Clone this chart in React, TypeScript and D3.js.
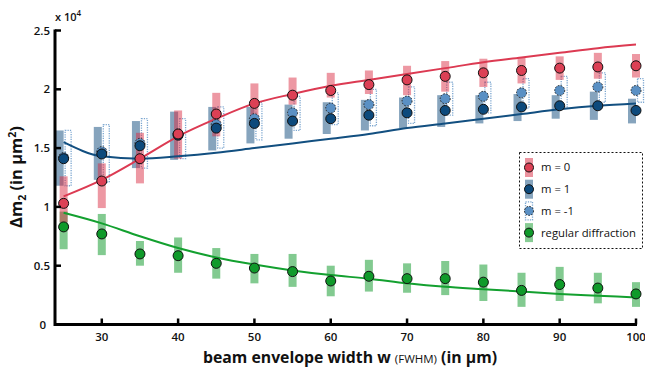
import * as d3 from "d3";

const widths = [25, 30, 35, 40, 45, 50, 55, 60, 65, 70, 75, 80, 85, 90, 95, 100];

// m = 0
const m0 = [1.03, 1.22, 1.41, 1.62, 1.79, 1.88, 1.95, 1.99, 2.04, 2.08, 2.11, 2.14, 2.16, 2.18, 2.19, 2.2];
const m0Lo = [0.87, 0.99, 1.2, 1.41, 1.6, 1.75, 1.87, 1.93, 1.96, 1.95, 1.98, 2.02, 2.05, 2.08, 2.09, 2.1];
const m0Hi = [1.26, 1.37, 1.63, 1.82, 1.97, 2.05, 2.1, 2.14, 2.16, 2.2, 2.24, 2.26, 2.27, 2.28, 2.31, 2.3];
const m0Fit = [1.09, 1.23, 1.41, 1.6, 1.75, 1.88, 1.96, 2.03, 2.08, 2.13, 2.18, 2.23, 2.27, 2.31, 2.35, 2.38];

// m = 1
const m1 = [1.41, 1.45, 1.52, 1.61, 1.67, 1.71, 1.73, 1.75, 1.78, 1.8, 1.82, 1.83, 1.85, 1.86, 1.86, 1.82];
const m1Lo = [1.18, 1.23, 1.33, 1.4, 1.48, 1.54, 1.58, 1.62, 1.65, 1.67, 1.68, 1.71, 1.73, 1.75, 1.74, 1.71];
const m1Hi = [1.65, 1.68, 1.73, 1.81, 1.85, 1.85, 1.87, 1.89, 1.91, 1.93, 1.95, 1.95, 1.96, 1.95, 1.98, 1.92];
const m1Fit = [1.55, 1.43, 1.41, 1.43, 1.46, 1.5, 1.54, 1.58, 1.62, 1.67, 1.71, 1.75, 1.79, 1.83, 1.86, 1.88];

// m = -1
const mm1 = [1.42, 1.47, 1.54, 1.62, 1.7, 1.75, 1.8, 1.84, 1.87, 1.9, 1.92, 1.94, 1.97, 1.99, 2.02, 1.99];
const mm1Lo = [1.18, 1.21, 1.33, 1.41, 1.5, 1.57, 1.65, 1.7, 1.69, 1.71, 1.78, 1.8, 1.84, 1.85, 1.89, 1.89];
const mm1Hi = [1.65, 1.7, 1.75, 1.75, 1.85, 1.89, 1.94, 1.97, 2.0, 2.02, 2.06, 2.06, 2.09, 2.11, 2.14, 2.09];

// regular diffraction
const reg = [0.83, 0.77, 0.6, 0.585, 0.52, 0.48, 0.45, 0.37, 0.41, 0.39, 0.39, 0.36, 0.29, 0.34, 0.31, 0.26];
const regLo = [0.64, 0.59, 0.5, 0.44, 0.39, 0.35, 0.32, 0.24, 0.28, 0.27, 0.25, 0.2, 0.15, 0.2, 0.18, 0.15];
const regHi = [0.96, 0.94, 0.71, 0.74, 0.65, 0.6, 0.6, 0.5, 0.55, 0.52, 0.54, 0.51, 0.44, 0.49, 0.44, 0.36];
const regFit = [0.95, 0.86, 0.75, 0.65, 0.57, 0.51, 0.46, 0.42, 0.39, 0.35, 0.32, 0.3, 0.28, 0.26, 0.245, 0.23];

const xTicks = [30, 40, 50, 60, 70, 80, 90, 100];
const yTicks = [0, 0.5, 1, 1.5, 2, 2.5];
const legendLabels = ["m = 0", "m = 1", "m = -1", "regular diffraction"];

const RED = "#d9283f";
const DBLUE = "#0d4a7c";
const LBLUE = "#5a90c4";
const GREEN = "#0f9a2a";
const FONT = "'Open Sans', 'Noto Sans', sans-serif";

const x = d3.scaleLinear().domain([24, 100]).range([56, 636]);
const y = d3.scaleLinear().domain([0, 2.5]).range([324.5, 30.5]);

const line = d3
  .line<number>()
  .x((_, i) => x(widths[i]))
  .y((d) => y(d))
  .curve(d3.curveMonotoneX);

const fmt = (v: number) => (v === 0 ? "0" : d3.format("~g")(v));

export default function App() {
  const barW = 8;
  return (
    <svg width={645} height={370} style={{ display: "block", position: "absolute", left: 0, top: 0 }} fontFamily={FONT}>
      <rect width={645} height={370} fill="#fff" />

      {/* error bars */}
      <g>
        {widths.map((w, i) => (
          <rect key={"g" + i} x={x(w) - 4} width={barW} y={y(regHi[i])} height={y(regLo[i]) - y(regHi[i])} fill={GREEN} fillOpacity={0.52} />
        ))}
        {widths.map((w, i) => (
          <rect key={"b" + i} x={x(w) - 8} width={barW} y={y(m1Hi[i])} height={y(m1Lo[i]) - y(m1Hi[i])} fill={DBLUE} fillOpacity={0.5} />
        ))}
        {widths.map((w, i) => (
          <rect key={"l" + i} x={x(w) + 1.5} width={6} y={y(mm1Hi[i])} height={y(mm1Lo[i]) - y(mm1Hi[i])} fill="none" stroke={LBLUE} strokeOpacity={0.8} strokeWidth={1.3} strokeDasharray="1.2,1.2" />
        ))}
        {widths.map((w, i) => (
          <rect key={"r" + i} x={x(w) - 4} width={barW} y={y(m0Hi[i])} height={y(m0Lo[i]) - y(m0Hi[i])} fill={RED} fillOpacity={0.48} />
        ))}
      </g>

      {/* fits */}
      <path d={line(regFit) ?? ""} fill="none" stroke="#13a02f" strokeWidth={2} />
      <path d={line(m1Fit) ?? ""} fill="none" stroke="#124f80" strokeWidth={2} />
      <path d={line(m0Fit) ?? ""} fill="none" stroke="#dc3a52" strokeWidth={2} />

      {/* points */}
      {widths.map((w, i) => (
        <circle key={"pg" + i} cx={x(w)} cy={y(reg[i])} r={5} fill={GREEN} stroke="#111" strokeWidth={1} />
      ))}
      {widths.map((w, i) => (
        <circle key={"pl" + i} cx={x(w)} cy={y(mm1[i])} r={5} fill={LBLUE} stroke="#222" strokeWidth={1} strokeDasharray="1.5,1.5" />
      ))}
      {widths.map((w, i) => (
        <circle key={"pb" + i} cx={x(w)} cy={y(m1[i])} r={5} fill={DBLUE} stroke="#111" strokeWidth={1} />
      ))}
      {widths.map((w, i) => (
        <circle key={"pr" + i} cx={x(w)} cy={y(m0[i])} r={5} fill="#dc4055" stroke="#111" strokeWidth={1} />
      ))}

      {/* axes */}
      <line x1={55} x2={55} y1={y(2.5) - 1} y2={y(0) + 1.5} stroke="#000" strokeWidth={3} />
      <line x1={55} x2={x(100) + 1} y1={y(0)} y2={y(0)} stroke="#000" strokeWidth={3} />
      {yTicks.map((t) => (
        <g key={"yt" + t}>
          {t > 0 && <line x1={55} x2={61} y1={y(t)} y2={y(t)} stroke="#000" strokeWidth={2.5} />}
          <text x={t === 0 ? 46 : 50} y={y(t)} dy="0.35em" textAnchor="end" fontSize={11.5} fontWeight={600} fill="#111">
            {fmt(t)}
          </text>
        </g>
      ))}
      {xTicks.map((t) => (
        <g key={"xt" + t}>
          <line x1={x(t)} x2={x(t)} y1={y(0)} y2={y(0) - 6} stroke="#000" strokeWidth={2.5} />
          <text x={x(t)} y={341} textAnchor="middle" fontSize={11.5} fontWeight={600} fill="#111">
            {t}
          </text>
        </g>
      ))}
      <text x={55} y={21} fontSize={11} fontWeight={600} fill="#111">
        x 10
        <tspan dy={-5} fontSize={8}>4</tspan>
      </text>

      {/* axis titles */}
      <text x={350} y={363} textAnchor="middle" fontSize={15.8} fontWeight={700} fill="#111">
        beam envelope width w <tspan fontSize={11.5} fontWeight={400}>(FWHM)</tspan> (in µm)
      </text>
      <text transform="translate(22,177) rotate(-90)" textAnchor="middle" fontSize={16.5} fontWeight={700} fill="#111">
        Δm<tspan fontSize={10.5} dy={4}>2</tspan>
        <tspan dy={-4}> (in µm</tspan>
        <tspan fontSize={10.5} dy={-6}>2</tspan>
        <tspan dy={6}>)</tspan>
      </text>

      {/* legend */}
      <g>
        <rect x={519.5} y={152.5} width={123} height={96} fill="#fff" stroke="#111" strokeWidth={1} strokeDasharray="2,2" />
        {legendLabels.map((lab, i) => {
          const cy = 167.5 + i * 21.7;
          const cx = 529;
          const fills = [RED, DBLUE, LBLUE, GREEN];
          const pf = ["#dc4055", DBLUE, LBLUE, GREEN];
          return (
            <g key={lab}>
              {i === 2 ? (
                <rect x={cx - 3.5} y={cy - 9} width={7} height={18} fill="none" stroke={LBLUE} strokeOpacity={0.8} strokeWidth={1.3} strokeDasharray="1.2,1.2" />
              ) : (
                <rect x={cx - 4} y={cy - 9.5} width={8} height={19} fill={fills[i]} fillOpacity={0.5} />
              )}
              <circle cx={cx} cy={cy} r={4.5} fill={pf[i]} stroke="#111" strokeWidth={1} strokeDasharray={i === 2 ? "1.5,1.5" : undefined} />
              <text x={541} y={cy} dy="0.35em" fontSize={11.3} fill="#111">
                {lab}
              </text>
            </g>
          );
        })}
      </g>
    </svg>
  );
}
